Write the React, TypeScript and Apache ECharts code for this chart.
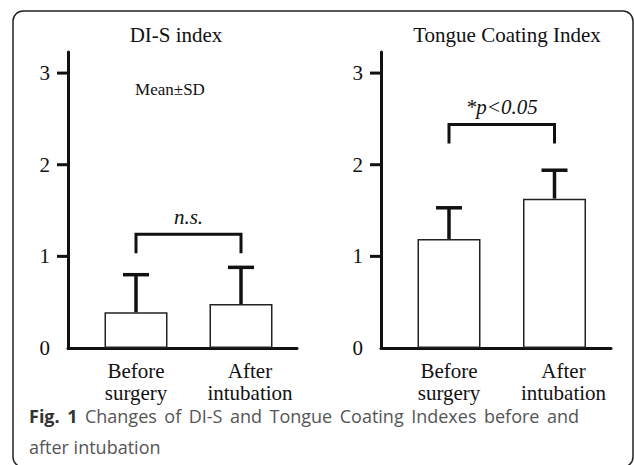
import React, { useEffect, useRef } from 'react';
import * as echarts from 'echarts';

// ---- data ----
const categories = ['Before\nsurgery', 'After\nintubation'];
const panelTitles = ['DI-S index', 'Tongue Coating Index'];
const diMean = [0.39, 0.48];
const diSD = [0.41, 0.4];
const tciMean = [1.19, 1.63];
const tciSD = [0.34, 0.31];
const yTickValues = [1, 2, 3];
const compareLabels = ['n.s.', '*p<0.05'];
const bracketLevels = [1.24, 2.44];
const noteText = 'Mean±SD';
const captionBoldWords = ['Fig.', '1'];
const captionLine1Words = ['Changes', 'of', 'DI-S', 'and', 'Tongue', 'Coating', 'Indexes', 'before', 'and'];
const captionLine2 = 'after intubation';

const SERIF = 'Liberation Serif, Times New Roman, serif';
const INK = '#111';
const Y_MAX = 3.23;

function buildOption() {
  const grids: any[] = [];
  const xAxes: any[] = [];
  const yAxes: any[] = [];
  const series: any[] = [];

  const panels = [
    { axisLeft: 68, axisWidth: 229, barLeft: 83.5, barWidth: 210, mean: diMean, sd: diSD, label: compareLabels[0], level: bracketLevels[0] },
    { axisLeft: 381, axisWidth: 230, barLeft: 396.25, barWidth: 211, mean: tciMean, sd: tciSD, label: compareLabels[1], level: bracketLevels[1] },
  ];

  // second category label sits a little right of its bar in the reference
  const categoryData = categories.map((c, i) => ({
    value: c,
    textStyle: i === 1 ? { padding: [0, 0, 0, 18] } : {},
  }));

  panels.forEach((p) => {
    const gA = grids.length;
    grids.push({ left: p.axisLeft, top: 52, width: p.axisWidth, height: 296 });
    const gB = grids.length;
    grids.push({ left: p.barLeft, top: 52, width: p.barWidth, height: 296 });

    xAxes.push({
      gridIndex: gA, type: 'value', min: 0, max: 1,
      axisLine: { show: true, onZero: false, lineStyle: { color: INK, width: 3 } },
      axisTick: { show: false }, axisLabel: { show: false }, splitLine: { show: false },
    });
    yAxes.push({
      gridIndex: gA, type: 'value', min: 0, max: Y_MAX, interval: 1,
      axisLine: { show: true, onZero: false, lineStyle: { color: INK, width: 3 } },
      axisTick: { show: false },
      axisLabel: { fontSize: 21, fontFamily: SERIF, color: INK, margin: 18, showMaxLabel: false },
      splitLine: { show: false },
    });
    xAxes.push({
      gridIndex: gB, type: 'category', data: categoryData,
      axisLine: { show: false }, axisTick: { show: false },
      axisLabel: { fontSize: 21, fontFamily: SERIF, color: INK, lineHeight: 22, margin: 12, interval: 0 },
    });
    yAxes.push({ gridIndex: gB, type: 'value', min: 0, max: Y_MAX, show: false });

    const xA = xAxes.length - 2, yA = yAxes.length - 2;
    const xB = xAxes.length - 1, yB = yAxes.length - 1;

    series.push({
      type: 'custom', xAxisIndex: xA, yAxisIndex: yA, silent: true, clip: false, z: 5,
      data: yTickValues.map((v) => [0, v]),
      renderItem: (params: any, api: any) => {
        const pt = api.coord([0, api.value(1)]);
        return {
          type: 'line',
          shape: { x1: pt[0] - 11, y1: pt[1], x2: pt[0], y2: pt[1] },
          style: { stroke: INK, lineWidth: 3 },
        };
      },
    });

    series.push({
      type: 'bar', xAxisIndex: xB, yAxisIndex: yB, barWidth: 63,
      data: p.mean,
      itemStyle: { color: '#fff', borderColor: '#222', borderWidth: 1.5 },
      silent: true, z: 3,
    });

    series.push({
      type: 'custom', xAxisIndex: xB, yAxisIndex: yB, silent: true, clip: false, z: 4,
      data: p.mean.map((m, i) => [i, m, m + p.sd[i]]),
      encode: { x: 0, y: [1, 2] },
      renderItem: (params: any, api: any) => {
        const i = api.value(0);
        const base = api.coord([i, api.value(1)]);
        const top = api.coord([i, api.value(2)]);
        return {
          type: 'group',
          children: [
            { type: 'line', shape: { x1: base[0], y1: base[1], x2: top[0], y2: top[1] }, style: { stroke: INK, lineWidth: 3.5 } },
            { type: 'line', shape: { x1: top[0] - 13, y1: top[1], x2: top[0] + 13, y2: top[1] }, style: { stroke: INK, lineWidth: 3.5 } },
          ],
        };
      },
    });

    series.push({
      type: 'custom', xAxisIndex: xB, yAxisIndex: yB, silent: true, clip: false, z: 4,
      data: [[0, 1, p.level]],
      encode: { x: [0, 1], y: 2 },
      renderItem: (params: any, api: any) => {
        const a = api.coord([api.value(0), api.value(2)]);
        const b = api.coord([api.value(1), api.value(2)]);
        return {
          type: 'group',
          children: [
            {
              type: 'polyline',
              shape: { points: [[a[0], a[1] + 19], [a[0], a[1]], [b[0], a[1]], [b[0], a[1] + 19]] },
              style: { stroke: INK, lineWidth: 3, fill: 'none' },
            },
            {
              type: 'text',
              style: {
                text: p.label, x: (a[0] + b[0]) / 2, y: a[1] - 17,
                align: 'center', verticalAlign: 'middle',
                font: `italic 21px ${SERIF}`, fill: INK,
              },
            },
          ],
        };
      },
    });
  });

  // justified first caption line: widened word spaces
  const sp = '{s| }';
  const line1 = `{b|${captionBoldWords[0]}}${sp}{b|${captionBoldWords[1]}}${sp}` + captionLine1Words.join(sp);

  const graphic: any[] = [
    {
      type: 'rect', shape: { x: 13, y: 11, width: 620, height: 456, r: 10 },
      style: { fill: 'none', stroke: '#222', lineWidth: 1.5 }, silent: true,
    },
    {
      type: 'text',
      style: { text: panelTitles[0], x: 176, y: 35, align: 'center', verticalAlign: 'middle', font: `21px ${SERIF}`, fill: INK },
    },
    {
      type: 'text',
      style: { text: panelTitles[1], x: 507, y: 35, align: 'center', verticalAlign: 'middle', font: `21px ${SERIF}`, fill: INK },
    },
    {
      type: 'text',
      style: { text: noteText, x: 170, y: 89, align: 'center', verticalAlign: 'middle', font: `17px ${SERIF}`, fill: INK },
    },
    {
      type: 'text',
      style: {
        text: line1,
        x: 29, y: 416, align: 'left', verticalAlign: 'middle',
        fontSize: 18, fontFamily: 'Open Sans', fill: '#555',
        rich: {
          b: { fontSize: 18, fontFamily: 'Open Sans', fontWeight: 'bold', fill: '#333' },
          s: { fontSize: 18, fontFamily: 'Open Sans', width: 7.5 },
        },
      },
    },
    {
      type: 'text',
      style: {
        text: captionLine2, x: 29, y: 447, align: 'left', verticalAlign: 'middle',
        fontSize: 18, fontFamily: 'Open Sans', fill: '#555',
      },
    },
  ];

  return {
    animation: false,
    backgroundColor: '#fff',
    grid: grids,
    xAxis: xAxes,
    yAxis: yAxes,
    series,
    graphic,
  };
}

export default function App() {
  const ref = useRef<HTMLDivElement>(null);
  useEffect(() => {
    if (!ref.current) return;
    const chart = echarts.init(ref.current, undefined, { renderer: 'svg' });
    chart.setOption(buildOption() as any);
    return () => chart.dispose();
  }, []);
  return (
    <div
      ref={ref}
      style={{ position: 'absolute', left: 0, top: 0, width: 634, height: 465, background: '#fff' }}
    />
  );
}
